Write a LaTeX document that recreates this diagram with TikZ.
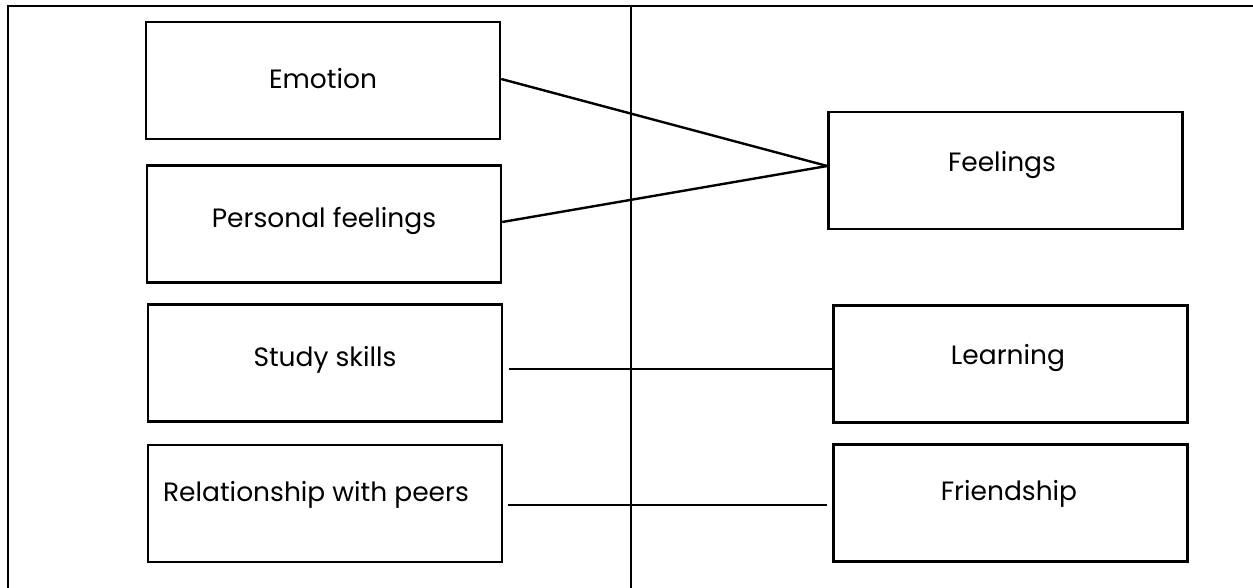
\documentclass[tikz,border=0pt]{standalone}
\usepackage{fontspec}
\setmainfont{Poppins}
\usetikzlibrary{calc}
\begin{document}
\begin{tikzpicture}[x=1pt, y=-1pt,
    every node/.style={font=\fontsize{26.5}{30}\selectfont},
    box/.style={draw, line width=2.5pt, minimum width=354pt, minimum height=117pt, inner sep=0pt},
    link/.style={line width=2.4pt}]

      \clip (0,0) rectangle (1253,588);

      % Frame
      \draw[line width=2.5pt] (8,6) rectangle (1270,610);
      \draw[line width=2.4pt] (631,6) -- (631,610);

      % Left column
      \node[box] (emotion) at (323,80.5) {};
      \node (emotiontxt) at (323,79) {Emotion};

      \node[box] (personal) at (324,224) {};
      \node (personaltxt) at (324,221) {Personal feelings};

      \node[box] (study) at (325,363) {};
      \node (studytxt) at (325,360) {Study skills};

      \node[box] (peers) at (325,503.5) {};
      \node (peerstxt) at (316,495) {Relationship with peers};

      % Right column
      \node[box] (feelings) at (1005.5,170.5) {};
      \node (feelingstxt) at (1002,165) {Feelings};

      \node[box] (learning) at (1010.5,364) {};
      \node (learningtxt) at (1008,358) {Learning};

      \node[box] (friendship) at (1010.5,503) {};
      \node (friendshiptxt) at (1009,494) {Friendship};

      % Links
      \draw[link] (emotion.east |- emotiontxt) -- ($(feelings.west)+(0,-4.5)$);
      \draw[link] ($(personal.east)+(0,-2)$) -- ($(feelings.west)+(0,-4.5)$);
      \draw[link] ($(study.east)+(6,6)$) -- ($(learning.west)+(0,5)$);
      \draw[link] ($(peers.east)+(5,1.5)$) -- ($(friendship.west)+(-5,2)$);

\end{tikzpicture}
\end{document}
